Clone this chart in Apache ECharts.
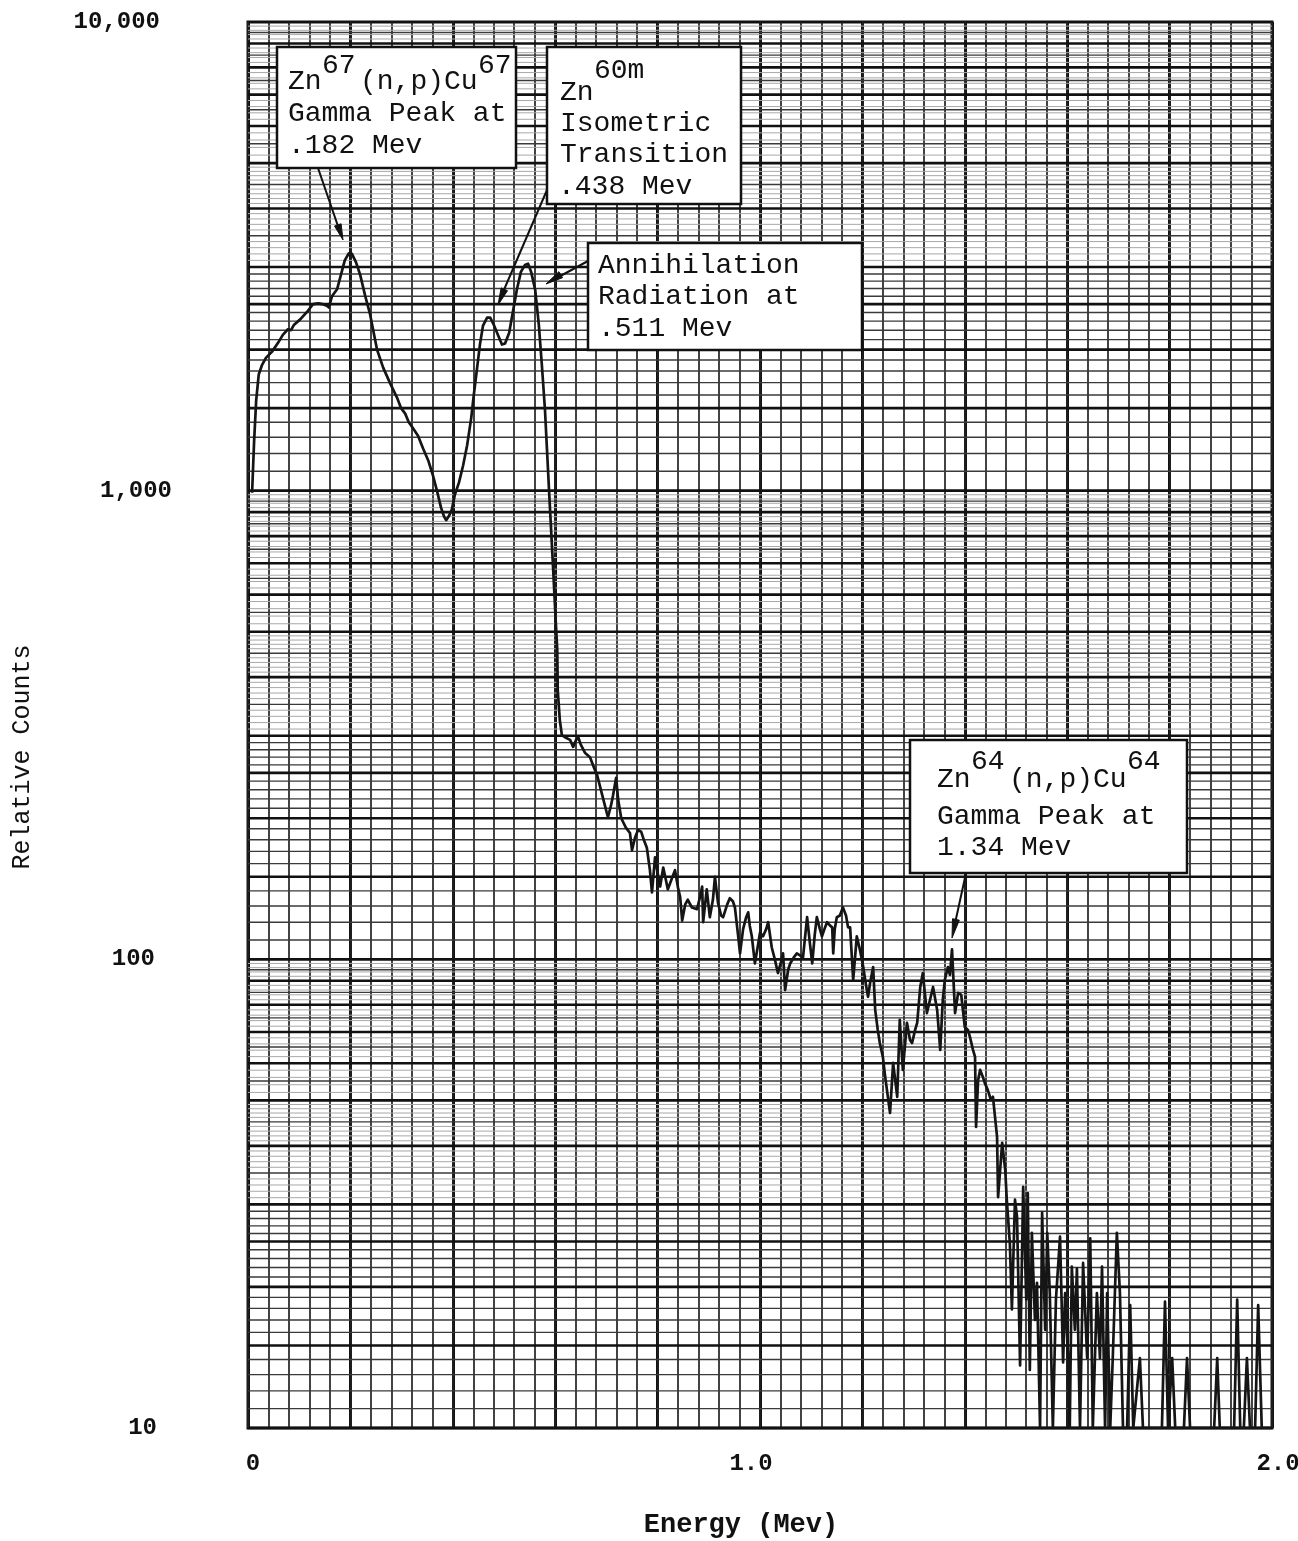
<!DOCTYPE html>
<html><head><meta charset="utf-8">
<script src="https://cdn.jsdelivr.net/npm/echarts/dist/echarts.min.js"></script>
<style>html,body{margin:0;padding:0;background:#fff}#c{width:1298px;height:1541px}</style>
</head><body><div id="c"></div><script>
// ---------------- DATA ----------------
const energyPeaks = [0.008,0.012,0.016,0.021,0.027,0.035,0.047,0.059,0.068,0.078,0.084,0.090,0.102,0.117,0.127,0.137,0.146,0.154,0.158,0.164,0.174,0.182,0.189,0.197,0.203,0.211,0.219,0.229,0.238,0.252,0.264,0.277,0.291,0.299,0.307,0.314,0.322,0.332,0.342,0.352,0.361,0.369,0.377,0.383,0.387,0.393,0.398,0.404,0.412,0.420,0.428,0.436,0.441,0.447,0.453,0.459,0.467,0.473,0.480,0.488,0.496,0.502,0.510,0.518,0.525,0.533,0.541,0.547,0.553,0.561,0.568,0.574,0.580,0.584,0.588,0.592,0.596,0.600,0.604,0.605,0.609,0.613];
const countsPeaks = [990,1280,1560,1770,1850,1920,1980,2070,2150,2210,2200,2260,2320,2420,2500,2510,2500,2480,2460,2600,2690,2900,3100,3210,3200,3070,2890,2600,2390,2000,1830,1700,1580,1500,1460,1400,1360,1310,1230,1160,1080,1000,920,880,865,885,910,980,1040,1130,1250,1430,1600,1810,2050,2250,2340,2340,2260,2150,2050,2060,2170,2430,2680,2930,3030,3050,2930,2680,2260,1850,1490,1220,1000,825,680,555,457,375,324,301];

const energyContinuum = [0.621,0.629,0.635,0.641,0.645,0.650,0.658,0.668,0.676,0.682,0.691,0.697,0.703,0.709,0.713,0.719,0.723,0.729,0.738,0.746,0.750,0.756,0.762,0.768,0.773,0.779,0.785,0.789,0.795,0.801,0.805,0.811,0.816,0.820,0.828,0.834,0.840,0.844,0.848,0.854,0.859,0.867,0.877,0.883,0.887,0.889,0.896,0.902,0.908,0.912,0.918,0.924,0.928,0.936,0.941,0.947,0.951,0.957,0.961,0.967,0.973,0.977,0.980,0.984,0.990,0.996,1.000,1.006,1.012,1.016,1.023,1.029,1.035,1.041,1.045,1.049,1.055,1.059,1.066,1.072,1.078,1.084,1.092,1.098,1.102,1.107,1.111,1.117,1.121,1.127,1.131,1.137,1.141,1.143,1.146,1.150,1.156,1.162,1.168,1.172,1.176,1.182,1.186,1.189,1.195,1.201,1.207,1.211,1.215,1.221,1.225,1.230,1.234,1.240,1.244,1.248,1.254,1.260,1.264,1.268,1.273,1.279,1.287,1.293,1.297,1.303,1.307,1.313,1.318,1.326,1.332,1.338,1.346,1.352,1.357,1.361,1.367,1.371,1.375,1.381,1.387,1.393,1.396,1.400,1.406,1.410,1.416,1.420,1.422,1.426,1.430,1.436,1.439,1.445,1.451,1.455,1.463,1.465,1.473,1.479,1.482];
const countsContinuum = [297,294,284,294,298,287,276,270,256,247,226,213,201,213,224,244,219,200,191,186,171,182,189,187,180,173,155,139,165,151,143,157,148,141,149,155,142,136,121,131,134,129,128,136,143,120,141,123,134,150,132,124,123,131,135,133,129,113,103,116,123,126,118,112,98,107,114,112,116,120,106,100,93.5,98.7,103,86,95,98,101,103,102,101,123,107,98,113,123,116,112,117,120,118,117,103,116,123,124,129,124,117,117,90.4,102,112,105,97.3,88.2,83.2,89,96.3,78,70.7,66.3,61.9,56.7,52.6,47,60.1,55.3,50.9,74.3,58.1,73.2,67.3,66.3,70.7,73.2,87.3,93.5,76.8,81.9,87.3,78,64.1,81.9,90.4,96.3,92.6,105,76.8,84.8,84,83.2,71.7,70.7,68.3,64.1,61.9,43.9,55.3,58.1,55.8,54.5,52.6,50.1,50.9,41.8,31.1,40.6,35.5,30.7];

const energyTail = [1.488,1.492,1.498,1.502,1.508,1.514,1.520,1.523,1.527,1.531,1.537,1.541,1.547,1.551,1.557,1.561,1.566,1.572,1.578,1.586,1.592,1.596,1.602,1.605,1.609,1.615,1.619,1.625,1.631,1.639,1.645,1.650,1.658,1.664,1.668,1.674,1.678,1.684,1.689,1.697,1.703,1.709,1.717,1.723,1.729,1.742,1.748,1.785,1.791,1.797,1.805,1.811,1.828,1.834,1.840,1.887,1.893,1.898,1.926,1.932,1.938,1.945,1.951,1.957,1.967,1.973,1.980,1.996];
const countsTail = [24.8,17.9,30.7,28.2,13.6,32.7,18.8,31.7,13.3,26.1,17.0,20.4,10,28.8,16.2,26.1,19.4,10,18.8,25.6,13.8,19.4,14.1,10,22.1,16.2,21.9,10,22.5,14.1,25.4,10,19.4,14.1,22.1,10,19.4,10,14.1,26.1,19.4,10,10,18.3,10,14.1,10,10,18.6,10,14.1,10,10,14.1,10,10,14.1,10,10,18.8,10,10,14.1,10,10,18.3,10,10];

// axis ticks
const xLabelValues = [0, 1.0, 2.0];
const xLabelTexts  = ['0', '1.0', '2.0'];
const yLabelValues = [10, 100, 1000, 10000];
const yLabelTexts  = ['10', '100', '1,000', '10,000'];

// log-paper ruling (mantissas within each decade)
const decades = [10, 100, 1000];
const rulingThick  = [1, 1.5, 2, 2.5, 3, 4, 5, 6, 7, 8, 9];
const rulingMedium = [1.1,1.2,1.3,1.4,1.6,1.7,1.8,1.9,2.1,2.2,2.3,2.4,2.6,2.7,2.8,2.9,3.5,4.5,5.5,6.5,7.5,8.5,9.5];
const rulingFaint  = [3.1,3.2,3.3,3.4,3.6,3.7,3.8,3.9,4.1,4.2,4.3,4.4,4.6,4.7,4.8,4.9,5.2,5.4,5.6,5.8,6.2,6.4,6.6,6.8,7.2,7.4,7.6,7.8,8.2,8.4,8.6,8.8,9.2,9.4,9.6,9.8];

// ---------------- BUILD ----------------
function zip(a, b) { const n = Math.min(a.length, b.length); const r = []; for (let i = 0; i < n; i++) r.push([a[i], b[i]]); return r; }
const spectrum = [].concat(zip(energyPeaks, countsPeaks), zip(energyContinuum, countsContinuum), zip(energyTail, countsTail));

const ruling = [];
decades.forEach(d => {
  rulingFaint.forEach(m => ruling.push([0, +(m * d).toFixed(4), 0]));
  rulingMedium.forEach(m => ruling.push([0, +(m * d).toFixed(4), 1]));
  rulingThick.forEach(m => ruling.push([0, +(m * d).toFixed(4), 2]));
});
const RULE_STYLE = [
  {stroke: '#a8a8a8', lineWidth: 1},
  {stroke: '#3a3a3a', lineWidth: 1.4},
  {stroke: '#111111', lineWidth: 2.6}
];

const FONT = "'Liberation Mono', 'DejaVu Sans Mono', monospace";
const INK = '#111';

function txt(x, y, s, size, extra) {
  return Object.assign({type: 'text', x: x, y: y, z: 110,
    style: {text: s, fontFamily: FONT, fontSize: size || 28, fill: INK, align: 'left', verticalAlign: 'middle'}}, extra || {});
}
function box(x, y, w, h) {
  return {type: 'rect', z: 100, shape: {x: x, y: y, width: w, height: h},
    style: {fill: '#fff', stroke: INK, lineWidth: 2.5}};
}
function arrowLine(x1, y1, x2, y2) {
  return {type: 'line', z: 100, shape: {x1: x1, y1: y1, x2: x2, y2: y2}, style: {stroke: INK, lineWidth: 2}};
}
function arrowHead(pts) {
  return {type: 'polygon', z: 100, shape: {points: pts}, style: {fill: INK, stroke: INK, lineWidth: 1}};
}

const chart = echarts.init(document.getElementById('c'), null, {renderer: 'canvas'});
function lbl(pad, size) { return {fontFamily: FONT, fontSize: size, fontWeight: 'bold', color: INK, padding: pad}; }
const yRich = {r0: lbl([0, 15, 0, 0], 24), r1: lbl([0, 17, 0, 0], 24), r2: lbl([0, 0, 0, 0], 24), r3: lbl([0, 12, 0, 0], 24)};
const xRich = {c0: lbl([0, 0, 0, 10], 24), c1: lbl([0, 18, 0, 0], 24), c2: lbl([0, 0, 0, 12], 24)};

chart.setOption({
  animation: false,
  backgroundColor: '#fff',
  grid: {left: 248, top: 22, width: 1024, height: 1406, show: true, borderColor: INK, borderWidth: 3,
         backgroundColor: 'transparent', containLabel: false, outerBoundsMode: 'none'},
  xAxis: [{
    type: 'value', min: 0, max: 2, interval: 0.2, position: 'bottom',
    axisLine: {show: false}, axisTick: {show: false},
    axisLabel: {
      margin: 24, rich: xRich,
      formatter: function (v) {
        for (let i = 0; i < xLabelValues.length; i++) if (Math.abs(v - xLabelValues[i]) < 1e-6) return '{c' + i + '|' + xLabelTexts[i] + '}';
        return '';
      }
    },
    splitLine: {show: true, lineStyle: {color: INK, width: 3}}
  }, {
    type: 'value', min: 0, max: 2, interval: 0.04, position: 'top',
    axisLine: {show: false}, axisTick: {show: false}, axisLabel: {show: false},
    splitLine: {show: true, lineStyle: {color: '#222', width: 1.7}}
  }],
  yAxis: {
    type: 'log', logBase: 10, min: 10, max: 10000, interval: 1,
    axisLine: {show: false}, axisTick: {show: false}, splitLine: {show: false},
    axisLabel: {
      margin: 76, rich: yRich,
      formatter: function (v) {
        for (let i = 0; i < yLabelValues.length; i++) if (Math.abs(v - yLabelValues[i]) < 1e-6 * yLabelValues[i]) return '{r' + i + '|' + yLabelTexts[i] + '}';
        return '';
      }
    }
  },
  series: [{
    type: 'custom', name: 'ruling', silent: true, z: 1, xAxisIndex: 0, yAxisIndex: 0,
    encode: {x: 0, y: 1},
    data: ruling,
    renderItem: function (params, api) {
      const v = api.value(1), cls = api.value(2);
      const p1 = api.coord([0, v]), p2 = api.coord([2, v]);
      return {type: 'line', shape: {x1: p1[0], y1: p1[1], x2: p2[0], y2: p2[1]}, style: RULE_STYLE[cls]};
    }
  }, {
    type: 'line', name: 'spectrum', z: 5, xAxisIndex: 0, yAxisIndex: 0,
    data: spectrum, showSymbol: false, symbol: 'none', smooth: false,
    lineStyle: {color: '#151515', width: 2.7, join: 'round'}
  }],
  graphic: [
    // axis titles
    txt(741, 1525, 'Energy (Mev)', 27, {style: {text: 'Energy (Mev)', fontFamily: FONT, fontSize: 27, fontWeight: 'bold', fill: INK, align: 'center', verticalAlign: 'middle'}}),
    {type: 'text', x: 22, y: 757, rotation: Math.PI / 2, z: 110,
     style: {text: 'Relative Counts', fontFamily: FONT, fontSize: 25, fill: INK, align: 'center', verticalAlign: 'middle'}},

    // Box 1
    box(277, 47, 239, 121),
    txt(288, 82, 'Zn'), txt(322, 66, '67'), txt(360, 82, '(n,p)Cu'), txt(478, 66, '67'),
    txt(288, 114, 'Gamma Peak at'),
    txt(288, 146, '.182 Mev'),
    arrowLine(318, 168, 340, 232),
    arrowHead([[343, 240], [334.5, 226], [341.1, 223.8]]),

    // Box 2
    box(547, 47, 194, 157),
    txt(560, 93, 'Zn'), txt(594, 71, '60m'),
    txt(560, 124, 'Isometric'),
    txt(560, 155, 'Transition'),
    txt(558, 187, '.438 Mev'),
    arrowLine(547, 190, 500, 299),
    arrowHead([[498, 305], [507.5, 290.7], [501.1, 287.9]]),

    // Box 3
    box(588, 243, 274, 107),
    txt(598, 266, 'Annihilation'),
    txt(598, 297, 'Radiation at'),
    txt(598, 329, '.511 Mev'),
    arrowLine(588, 261, 553, 280),
    arrowHead([[546, 284], [562.5, 277.7], [558.9, 271.7]]),

    // Box 4
    box(910, 740, 277, 133),
    txt(937, 780, 'Zn'), txt(971, 762, '64'), txt(1009, 780, '(n,p)Cu'), txt(1127, 762, '64'),
    txt(937, 817, 'Gamma Peak at'),
    txt(937, 848, '1.34 Mev'),
    arrowLine(966, 873, 954, 928),
    arrowHead([[952, 938], [959.3, 920.2], [952.5, 918.7]])
  ]
});
</script></body></html>
